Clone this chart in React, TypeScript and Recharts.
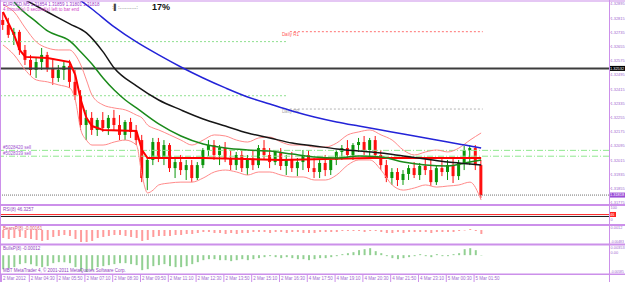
import { ComposedChart, Bar, Line, XAxis, YAxis, ReferenceLine } from "recharts";

const PURPLE = "#cc90ea";
const AXIS_TXT = "#a068d0";
const FONT = "'Liberation Sans', Arial, sans-serif";
const BULL = "#0a960a";
const BEAR = "#ff1010";
const X_DOMAIN: [number, number] = [-0.54, 109];

// EURUSD M5, 2-5 Mar 2012. one label every 5 bars
const timeLabels = [
  "2 Mar 2012", "2 Mar 04:30", "2 Mar 05:50", "2 Mar 07:10", "2 Mar 08:30", "2 Mar 09:50",
  "2 Mar 11:10", "2 Mar 12:30", "2 Mar 13:50", "2 Mar 15:10", "2 Mar 16:30", "4 Mar 17:50",
  "4 Mar 19:10", "4 Mar 20:30", "4 Mar 21:50", "4 Mar 23:10", "5 Mar 00:30", "5 Mar 01:50",
];
const timeTickIdx = [0, 5, 10, 15, 20, 25, 30, 35, 40, 45, 50, 55, 60, 65, 70, 75, 80, 85];

const priceTicks = [
  1.31775, 1.31855, 1.31935, 1.32015, 1.32095, 1.32175, 1.32255, 1.32335,
  1.32415, 1.32495, 1.32575, 1.32655, 1.32735, 1.32815, 1.32895,
];

// open, high, low, close
const ohlc = [
  [1.32805, 1.3285, 1.32749, 1.32777], [1.32777, 1.32817, 1.32704, 1.32721], [1.32721, 1.3276, 1.32664, 1.32738],
  [1.32738, 1.32749, 1.32608, 1.32636], [1.32636, 1.32664, 1.32551, 1.3258], [1.3258, 1.32608, 1.32495, 1.32523],
  [1.32523, 1.32591, 1.32478, 1.32568], [1.32568, 1.32647, 1.32523, 1.32608], [1.32608, 1.32625, 1.32512, 1.32534],
  [1.32534, 1.3258, 1.32439, 1.32478], [1.32478, 1.32551, 1.32456, 1.32523], [1.32523, 1.32568, 1.32467, 1.32546],
  [1.32546, 1.3258, 1.32422, 1.32456], [1.32456, 1.32523, 1.32354, 1.32382], [1.32382, 1.3241, 1.32185, 1.32213],
  [1.32213, 1.32298, 1.32128, 1.32253], [1.32253, 1.32286, 1.32157, 1.32185], [1.32185, 1.32253, 1.32151, 1.32241],
  [1.32241, 1.32286, 1.32174, 1.32196], [1.32196, 1.32269, 1.32157, 1.32253], [1.32253, 1.32298, 1.32185, 1.32213],
  [1.32213, 1.32269, 1.32128, 1.32157], [1.32157, 1.32241, 1.32128, 1.3223], [1.3223, 1.32253, 1.3214, 1.32174],
  [1.32174, 1.32213, 1.321, 1.32128], [1.32128, 1.32157, 1.31891, 1.31914], [1.31914, 1.32027, 1.31846, 1.32016],
  [1.32016, 1.3214, 1.31987, 1.32117], [1.32117, 1.3214, 1.32004, 1.32027], [1.32027, 1.32128, 1.31987, 1.321],
  [1.321, 1.32111, 1.31948, 1.3197], [1.3197, 1.32027, 1.31914, 1.32004], [1.32004, 1.32044, 1.31931, 1.31959],
  [1.31959, 1.32016, 1.31903, 1.31987], [1.31987, 1.32016, 1.31891, 1.31914], [1.31914, 1.32004, 1.31903, 1.31987],
  [1.31987, 1.32083, 1.3197, 1.32072], [1.32072, 1.32128, 1.32038, 1.321], [1.321, 1.32128, 1.32016, 1.32044],
  [1.32044, 1.321, 1.31987, 1.32083], [1.32083, 1.32117, 1.32004, 1.32027], [1.32027, 1.32072, 1.31959, 1.31987],
  [1.31987, 1.32061, 1.31959, 1.32044], [1.32044, 1.32072, 1.31948, 1.3197], [1.3197, 1.32044, 1.31931, 1.32016],
  [1.32016, 1.32072, 1.31959, 1.31987], [1.31987, 1.321, 1.3197, 1.32083], [1.32083, 1.32128, 1.32016, 1.32044],
  [1.32044, 1.32083, 1.3197, 1.32004], [1.32004, 1.32072, 1.31987, 1.32061], [1.32061, 1.32083, 1.31959, 1.31982],
  [1.31982, 1.32044, 1.31931, 1.32016], [1.32016, 1.32061, 1.31948, 1.3197], [1.3197, 1.32027, 1.31925, 1.32004],
  [1.32004, 1.32072, 1.31959, 1.32044], [1.32044, 1.32072, 1.31948, 1.3197], [1.3197, 1.32027, 1.31914, 1.31948],
  [1.31948, 1.32016, 1.31914, 1.31999], [1.31999, 1.32044, 1.31925, 1.31959], [1.31959, 1.32027, 1.31931, 1.32016],
  [1.32016, 1.32072, 1.31987, 1.32061], [1.32061, 1.321, 1.32016, 1.32083], [1.32083, 1.32128, 1.32027, 1.32044],
  [1.32044, 1.32111, 1.32016, 1.321], [1.321, 1.3214, 1.32061, 1.32117], [1.32117, 1.32151, 1.32044, 1.32072],
  [1.32072, 1.3214, 1.32038, 1.32128], [1.32128, 1.32151, 1.32027, 1.32044], [1.32044, 1.32072, 1.31959, 1.31987],
  [1.31987, 1.32016, 1.31891, 1.31914], [1.31914, 1.3197, 1.31875, 1.31948], [1.31948, 1.3197, 1.31869, 1.31903],
  [1.31903, 1.31959, 1.31875, 1.31937], [1.31937, 1.31987, 1.31903, 1.3197], [1.3197, 1.32004, 1.31914, 1.31931],
  [1.31931, 1.31999, 1.31903, 1.31982], [1.31982, 1.32027, 1.31931, 1.31959], [1.31959, 1.32016, 1.31869, 1.31891],
  [1.31891, 1.31987, 1.31875, 1.3197], [1.3197, 1.32027, 1.31925, 1.31948], [1.31948, 1.32016, 1.31903, 1.31987],
  [1.31987, 1.32027, 1.31886, 1.31925], [1.31925, 1.32016, 1.31903, 1.31999], [1.31999, 1.32095, 1.31959, 1.32072],
  [1.32072, 1.321, 1.31987, 1.32083], [1.32083, 1.321, 1.31959, 1.31987], [1.31987, 1.32016, 1.31801, 1.31818],
];

const bearsPower = [
  -0.00322, -0.00362, -0.00322, -0.00281, -0.00322, -0.00362, -0.00402, -0.00442, -0.00402,
  -0.00281, -0.00241, -0.00201, -0.00241, -0.00362, -0.00483, -0.00483, -0.00442,
  -0.00322, -0.00281, -0.00241, -0.00201, -0.00201, -0.00241, -0.00281, -0.00322,
  -0.00442, -0.00402, -0.00281, -0.00241, -0.00241, -0.00241, -0.00201, -0.00201, -0.00161,
  -0.00161, -0.00121, -0.0008, -0.0008, -0.00121, -0.00121, -0.00161, -0.00121, -0.00161,
  -0.00121, -0.00121, -0.0008, -0.0008, -0.0008, -0.00121, -0.0008, -0.0008, -0.00121,
  -0.0008, -0.0008, -0.00121, -0.00121, -0.00121, -0.0008, -0.0008, -0.0008,
  -0.0008, -0.0004, -0.0004, -0.0004, -0.0004, -0.0008, -0.0004, -0.0004,
  -0.0008, -0.00121, -0.00121, -0.0008, -0.00121, -0.0008, -0.0008, -0.0008, -0.0008,
  -0.00121, -0.0008, -0.0008, -0.0008, -0.0008, -0.0004, -0.0002, 0.0004, -0.0004, -0.00161,
];

const bullsPower = [
  -0.00486, -0.00451, -0.00416, -0.00312, -0.00278, -0.00312, -0.00382, -0.00416, -0.00382,
  -0.00278, -0.00243, -0.00243, -0.00278, -0.00416, -0.00555, -0.00585, -0.00521,
  -0.00416, -0.00382, -0.00347, -0.00312, -0.00278, -0.00278, -0.00312, -0.00347,
  -0.00521, -0.00486, -0.00382, -0.00347, -0.00312, -0.00382, -0.00416, -0.00416, -0.00382,
  -0.00312, -0.00243, -0.00174, -0.00139, -0.00139, -0.00174, -0.00174, -0.00208, -0.00174,
  -0.00139, -0.00174, -0.00139, -0.00104, -0.00069, -0.00035, -0.00069, -0.00104, -0.00069,
  -0.00104, -0.00139, -0.00139, -0.00174, -0.00139, -0.00104, -0.00104, -0.00069,
  -0.00035, 0.00035, 0.00069, 0.00104, 0.00174, 0.00208, 0.00243, 0.00139,
  0.00069, -0.00035, -0.00104, -0.00139, -0.00104, -0.00069, -0.00035, 0.00035, -0.00035,
  -0.00069, 0.00035, -0.00035, -0.00035, 0.00035, 0.00069, 0.00208, 0.00243, 0.00174, -0.00012,
];

// moving averages, read at selected bars
const blueIdx = [12, 16, 20, 24, 28, 32, 36, 40, 44, 48, 52, 56, 60, 64, 68, 72, 76, 80, 84, 86];
const blueMA = [
  1.32958, 1.32867, 1.32766, 1.32681, 1.32608, 1.3254, 1.32478, 1.32422, 1.32371, 1.32331,
  1.32292, 1.32258, 1.3223, 1.32207, 1.32185, 1.32162, 1.3214, 1.32117, 1.32095, 1.32083,
];
const blackIdx = [4, 8, 12, 15, 18, 20, 24, 28, 32, 36, 40, 44, 48, 52, 56, 60, 64, 68, 72, 76, 80, 84, 86];
const blackMA = [
  1.32918, 1.3285, 1.32783, 1.32732, 1.32625, 1.32534, 1.32433, 1.32354, 1.32298, 1.32247, 1.32207,
  1.32168, 1.3214, 1.32111, 1.32095, 1.32078, 1.32066, 1.32055, 1.32038, 1.32021, 1.32004, 1.31993, 1.31987,
];
const greenIdx = [2, 3, 6, 8, 12, 14, 16, 18, 20, 22, 24, 28, 32, 36, 40, 44, 48, 52, 56, 60, 64, 68, 72, 76, 80, 84, 86];
const greenMA = [
  1.32907, 1.32873, 1.32794, 1.32743, 1.32687, 1.32625, 1.32557, 1.32478, 1.3241, 1.32354, 1.32309,
  1.32219, 1.32151, 1.32106, 1.32083, 1.32072, 1.32066, 1.32049, 1.32033, 1.32027, 1.32038, 1.32033,
  1.32004, 1.31987, 1.31982, 1.32004, 1.32016,
];
const fastIdx = [0, 2, 3, 4, 8, 12, 13, 14, 15, 16, 18, 24, 25, 26, 36, 50, 66, 86];
const fastMA = [
  1.3285, 1.32721, 1.32636, 1.32597, 1.32591, 1.32568, 1.32495, 1.32354, 1.32253, 1.32207,
  1.32185, 1.32179, 1.32072, 1.32027, 1.32027, 1.32016, 1.32027, 1.32027,
];

// bollinger bands
const bandIdx = [
  0, 2, 4, 6, 8, 10, 12, 13, 14, 15, 16, 18, 20, 22, 24, 25, 26, 27, 28, 30, 32, 34, 36, 38,
  40, 42, 44, 46, 48, 50, 52, 54, 56, 58, 60, 62, 64, 66, 68, 70, 72, 74, 76, 78, 80, 82, 84, 86,
];
const bandUpper = [
  1.3289, 1.3285, 1.3276, 1.32681, 1.32647, 1.32636, 1.32636, 1.32608, 1.32551, 1.32467, 1.32382,
  1.32326, 1.32309, 1.32298, 1.32269, 1.32253, 1.32213, 1.32196, 1.32185, 1.32157, 1.32128, 1.321,
  1.32128, 1.32157, 1.32151, 1.32128, 1.32117, 1.3214, 1.32145, 1.32117, 1.321, 1.321, 1.32089,
  1.32089, 1.32111, 1.32157, 1.32174, 1.32185, 1.32157, 1.32128, 1.32072, 1.32044, 1.32061,
  1.32072, 1.32061, 1.32083, 1.32128, 1.32168,
];
const bandLower = [
  1.32664, 1.32608, 1.32523, 1.32467, 1.32456, 1.32439, 1.32422, 1.32354, 1.32185, 1.32128, 1.321,
  1.321, 1.32117, 1.32128, 1.321, 1.31931, 1.3183, 1.31846, 1.31875, 1.31886, 1.31891, 1.31891,
  1.31914, 1.31948, 1.31959, 1.31948, 1.31931, 1.31948, 1.31948, 1.31931, 1.3192, 1.3192, 1.31903,
  1.31903, 1.31931, 1.31987, 1.32016, 1.32016, 1.31959, 1.31875, 1.31846, 1.31858, 1.31875,
  1.31863, 1.31869, 1.31875, 1.31891, 1.3179,
];

// horizontal levels
const lastPrice = 1.31818;
const markLevel = 1.32532;
const orderLevels = [1.3207, 1.32037];
const orderNames = ["#5028420 sell", "#5028339 sell"];
const prevDayLevels = [1.32683, 1.32378];
const dailyR1 = 1.32739;
const dailyPP = 1.32303;
const dayBreak = [51.1, 51.6, 86.3];
const rsiValue = 46.3257;
const rsiLevel = 30;

const bars = ohlc.map(([open, high, low, close], i) => ({
  i, open, high, low, close, range: [low, high], bears: bearsPower[i], bulls: bullsPower[i],
}));
const series = (idx: number[], vals: number[]) => idx.map((i, k) => ({ i, v: vals[k] }));
const bandData = bandIdx.map((i, k) => ({ i, up: bandUpper[k], lo: bandLower[k] }));

const Candle = (p: any) => {
  const { x, y, width, height, payload } = p;
  if (x == null || !payload) return null;
  const top = Math.min(y, y + height);
  const span = Math.abs(height);
  const k = span / (payload.high - payload.low || 1);
  const yOf = (v: number) => top + (payload.high - v) * k;
  const col = payload.close >= payload.open ? BULL : BEAR;
  const cx = x + width / 2;
  const b1 = yOf(payload.open);
  const b2 = yOf(payload.close);
  return (
    <g>
      <line x1={cx} x2={cx} y1={top} y2={top + span} stroke={col} strokeWidth={1} />
      <rect x={cx - width / 2} y={Math.min(b1, b2)} width={width} height={Math.max(1, Math.abs(b1 - b2))} fill={col} />
    </g>
  );
};

// right axis text, small enough for the strip right of the plot
const SIDE_FS = 3.9;
const rightTick = (fmt: (v: number) => string, shift?: (v: number) => number) => (p: any) => {
  const s = fmt(p.payload.value);
  return (
    <text x={p.x} y={p.y + (shift ? shift(p.payload.value) : 0)} dy={1.4} fontSize={s.length >= 8 ? 3.4 : SIDE_FS}
      fill={AXIS_TXT} fontFamily={FONT}>
      {s}
    </text>
  );
};

const TimeTick = (p: any) => {
  const k = timeTickIdx.indexOf(p.payload.value);
  return (
    <g>
      <line x1={p.x - 1.5} x2={p.x - 1.5} y1={p.y} y2={p.y + 8} stroke={PURPLE} strokeWidth={1} />
      <text x={p.x} y={p.y + 6} fontSize={4.5} fill={AXIS_TXT} fontFamily={FONT}>{timeLabels[k]}</text>
    </g>
  );
};

const boxLabel = (text: string, bg: string, w: number) => ({ viewBox }: any) => (
  <g>
    <rect x={viewBox.x + viewBox.width} y={viewBox.y - 2.5} width={w} height={5} fill={bg} />
    <text x={viewBox.x + viewBox.width + 1} y={viewBox.y + 1.4} fontSize={SIDE_FS} fill="#fff" fontFamily={FONT}>{text}</text>
  </g>
);

const sideText = (text: string, color: string, dx: number, dy: number) => ({ viewBox }: any) => (
  <text x={viewBox.x + dx} y={viewBox.y + dy} fontSize={4.5} fill={color} fontFamily={FONT}>{text}</text>
);

const xAxisHidden = <XAxis dataKey="i" type="number" domain={X_DOMAIN} allowDataOverflow hide />;

function App() {
  const txt = { fontFamily: FONT, fontSize: 4.5 };
  return (
    <div style={{ position: "fixed", left: 0, top: 0, width: 625, height: 282, background: "#fff", overflow: "hidden" }}>
      <div style={{ position: "absolute", left: 0, top: 0 }}>
        <ComposedChart width={625} height={206} data={bars} margin={{ top: 1, right: 0, bottom: 1, left: 0 }}>
          {xAxisHidden}
          <YAxis
            orientation="right"
            width={16}
            domain={[1.31762, 1.32912]}
            allowDataOverflow
            ticks={priceTicks}
            interval={0}
            axisLine={false}
            tickLine={{ stroke: PURPLE }}
            tickSize={1.5}
            tickMargin={0}
            tick={rightTick((v) => v.toFixed(5))}
          />
          {prevDayLevels.map((v) => (
            <ReferenceLine key={v} segment={[{ x: X_DOMAIN[0], y: v }, { x: dayBreak[0], y: v }]} stroke="#8fe08f" strokeDasharray="2 2" />
          ))}
          <ReferenceLine segment={[{ x: dayBreak[1], y: dailyR1 }, { x: dayBreak[2], y: dailyR1 }]} stroke="#ff7070" strokeDasharray="2 2"
            label={sideText("Daily R1", "#ff5a5a", -8, 4)} />
          <ReferenceLine segment={[{ x: dayBreak[1], y: dailyPP }, { x: dayBreak[2], y: dailyPP }]} stroke="#b4b4b4" strokeDasharray="2 2"
            label={sideText("Daily PP", "#a8a8a8", -8, 4)} />
          <ReferenceLine y={markLevel} stroke="#3c3c3c" strokeWidth={2} label={boxLabel(markLevel.toFixed(5), "#000", 16)} />
          {orderLevels.map((v, k) => (
            <ReferenceLine key={v} y={v} stroke="#8fe88f" strokeDasharray="6 2 1 2"
              label={sideText(orderNames[k], "#a050d0", 3, -1.2)} />
          ))}
          <ReferenceLine y={lastPrice} stroke="#707070" strokeDasharray="1 1" label={boxLabel(lastPrice.toFixed(5), "#9a4fd6", 16)} />
          <Line data={bandData} dataKey="up" stroke="#ff8a8a" strokeWidth={1} dot={false} type="monotone" isAnimationActive={false} />
          <Line data={bandData} dataKey="lo" stroke="#ff8a8a" strokeWidth={1} dot={false} type="monotone" isAnimationActive={false} />
          <Bar dataKey="range" shape={Candle} barSize={3} isAnimationActive={false} />
          <Line data={series(fastIdx, fastMA)} dataKey="v" stroke="#ff0000" strokeWidth={2} dot={false} type="linear" isAnimationActive={false} />
          <Line data={series(greenIdx, greenMA)} dataKey="v" stroke="#1a8a1a" strokeWidth={1.5} dot={false} type="monotone" isAnimationActive={false} />
          <Line data={series(blackIdx, blackMA)} dataKey="v" stroke="#161616" strokeWidth={1.5} dot={false} type="monotone" isAnimationActive={false} />
          <Line data={series(blueIdx, blueMA)} dataKey="v" stroke="#2323d8" strokeWidth={1.5} dot={false} type="monotone" isAnimationActive={false} />
        </ComposedChart>
      </div>

      <div style={{ position: "absolute", left: 0, top: 206 }}>
        <ComposedChart width={625} height={18} data={bars} margin={{ top: 0, right: 0, bottom: 0, left: 0 }}>
          {xAxisHidden}
          <YAxis orientation="right" width={16} domain={[-33, 117]} allowDataOverflow ticks={[0, 100]} interval={0}
            axisLine={false} tickLine={false} tickSize={1.5} tickMargin={0} tick={rightTick((v) => String(v))} />
          <ReferenceLine y={rsiLevel} stroke="#111" strokeWidth={1} />
          <ReferenceLine y={rsiValue} stroke="#ff3030" strokeWidth={1.2} label={boxLabel(String(Math.round(rsiValue)), "#ff2020", 7)} />
        </ComposedChart>
      </div>

      <div style={{ position: "absolute", left: 0, top: 224 }}>
        <ComposedChart width={625} height={21} data={bars} margin={{ top: 3, right: 0, bottom: 3, left: 0 }}>
          {xAxisHidden}
          <YAxis orientation="right" width={16} domain={[-0.00483, 0.0012]} allowDataOverflow ticks={[0.0012, -0.00483]} interval={0}
            axisLine={false} tickLine={false} tickSize={1.5} tickMargin={0}
            tick={rightTick((v) => (v > 0 ? "0.0012" : v.toFixed(5)), (v) => (v > 0 ? 1 : -0.5))} />
          <Bar dataKey="bears" fill="#ff9c9c" barSize={2} isAnimationActive={false} />
        </ComposedChart>
      </div>

      <div style={{ position: "absolute", left: 0, top: 245 }}>
        <ComposedChart width={625} height={37} data={bars} margin={{ top: 0, right: 0, bottom: 0, left: 0 }}>
          <XAxis dataKey="i" type="number" domain={X_DOMAIN} allowDataOverflow ticks={timeTickIdx} interval={0}
            height={8} axisLine={false} tickLine={false} tickSize={0} tickMargin={0} tick={TimeTick} />
          <YAxis orientation="right" width={16} domain={[-0.00655, 0.00353]} allowDataOverflow ticks={[0.00353, 0, -0.00585]} interval={0}
            axisLine={false} tickLine={false} tickSize={1.5} tickMargin={0}
            tick={rightTick((v) => (v === 0 ? "0.00" : v.toFixed(5)), (v) => (v > 0 ? 3 : v === 0 ? -2.5 : 0))} />
          <Bar dataKey="bulls" fill="#92d092" barSize={2} isAnimationActive={false} />
        </ComposedChart>
      </div>

      <svg width={625} height={282} style={{ position: "absolute", left: 0, top: 0, pointerEvents: "none" }}>
        <rect x={0} y={0.5} width={625} height={1} fill={PURPLE} />
        <rect x={0} y={0} width={1} height={282} fill={PURPLE} />
        <rect x={609} y={0} width={1} height={282} fill={PURPLE} />
        <rect x={0} y={204} width={625} height={2} fill={PURPLE} />
        <rect x={0} y={224} width={625} height={2} fill={PURPLE} />
        <rect x={0} y={243.5} width={625} height={2} fill={PURPLE} />
        <rect x={0} y={273.5} width={625} height={1.5} fill={PURPLE} />

        <text x={3} y={6} {...txt} fill="#9a34c8">EURUSD,M5  1.31854 1.31859 1.31801 1.31818</text>
        <text x={3} y={11} {...txt} fill="#d040c8">4 minute(s) 0 second(s) left to bar end</text>
        <text x={112} y={9} fontFamily={FONT} fontSize={6} fill="#444">{":\u258C:..........:"}</text>
        <text x={152} y={10} fontFamily={FONT} fontSize={9} fontWeight="bold" fill="#111">17%</text>

        <text x={3} y={211} {...txt} fill="#9040c0">{`RSI(8) ${rsiValue.toFixed(4)}`}</text>
        <text x={3} y={230} {...txt} fill="#e0506a">{`BearsP(8) ${bearsPower[bearsPower.length - 1].toFixed(5)}`}</text>
        <text x={3} y={250} {...txt} fill="#9040c0">{`BullsP(8) ${bullsPower[bullsPower.length - 1].toFixed(5)}`}</text>
        <text x={3} y={272} {...txt} fill="#9040c0">MBT MetaTrader 4, © 2001-2011 MetaQuotes Software Corp.</text>
      </svg>
    </div>
  );
}

export default App;
